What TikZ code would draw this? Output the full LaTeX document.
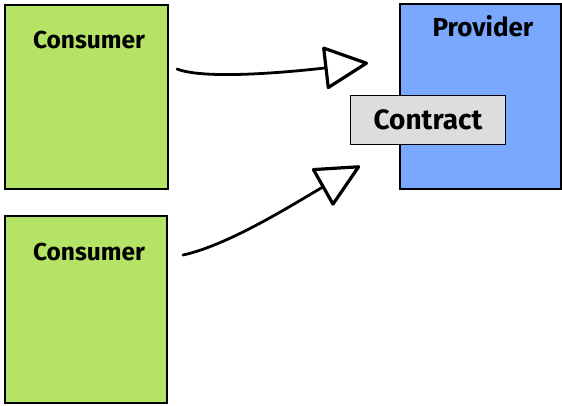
\documentclass[tikz,border=0pt]{standalone}
\usepackage{fontspec}
\setmainfont{Fira Sans}
\usetikzlibrary{arrows.meta}
\definecolor{cgreen}{RGB}{181,227,102}
\definecolor{cblue}{RGB}{122,168,255}
\definecolor{cgray}{RGB}{221,221,221}
\tikzset{
  box/.style={draw=black, line width=1.8pt, anchor=north west, inner sep=0pt},
  title/.style={font=\bfseries\fontsize{24.5}{26}\selectfont, inner sep=0pt},
  arr/.style={line width=2.8pt, line cap=round,
    -{Triangle[length=46pt, width=44pt, fill=white, line width=3.2pt, line join=round]}}
}
\begin{document}
\begin{tikzpicture}[x=1pt,y=-1pt]
\useasboundingbox (0,0) rectangle (562,405);
\node[box, fill=cgreen, minimum width=163pt, minimum height=184pt] (c1) at (4,4) {};
\node[title] (c1t) at (89,40) {Consumer};
\node[box, fill=cgreen, minimum width=162pt, minimum height=187pt] (c2) at (4,215) {};
\node[title] (c2t) at (89,252) {Consumer};
\node[box, fill=cblue, minimum width=161pt, minimum height=185pt] (p) at (399,3) {};
\node[title, font=\bfseries\fontsize{26}{28}\selectfont] (pt) at (483,26) {Provider};
\node[box, fill=cgray, minimum width=155pt, minimum height=49pt, anchor=center, font=\bfseries\fontsize{28}{30}\selectfont] (k) at (428,120) {Contract};
\coordinate (s1) at (177,69);
\coordinate (t1) at (368,63);
\coordinate (s2) at (183,255);
\coordinate (t2) at (360,166);
\draw[arr] (s1) .. controls (205,80) and (290,72) .. (t1);
\draw[arr] (s2) .. controls (230,245) and (300,200) .. (t2);
\end{tikzpicture}
\end{document}
